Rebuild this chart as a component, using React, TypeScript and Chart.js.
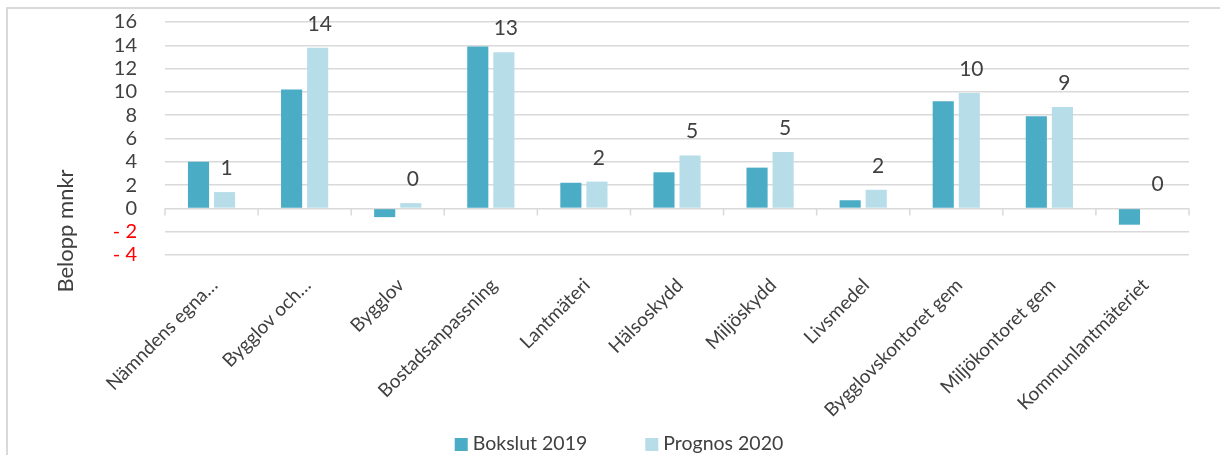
import { useEffect, useRef } from "react";
import { Chart, registerables } from "chart.js";

Chart.register(...registerables);

// ---- Data ----
const categories = [
  "Nämndens egna…",
  "Bygglov och…",
  "Bygglov",
  "Bostadsanpassning",
  "Lantmäteri",
  "Hälsoskydd",
  "Miljöskydd",
  "Livsmedel",
  "Bygglovskontoret gem",
  "Miljökontoret gem",
  "Kommunlantmäteriet",
];
const bokslut2019 = [4.0, 10.2, -0.75, 13.9, 2.2, 3.1, 3.5, 0.7, 9.2, 7.9, -1.4];
const prognos2020 = [1.4, 13.8, 0.45, 13.4, 2.3, 4.55, 4.85, 1.6, 9.9, 8.7, 0];
const seriesNames = ["Bokslut 2019", "Prognos 2020"];
const yMin = -4;
const yMax = 16;
const yStep = 2;
const yTitle = "Belopp mnkr";

// ---- Styles ----
const TEXT = "#404040";
const GRID = "#d9d9d9";
const COLORS = ["#4bacc6", "#b7dde8"];
const FONT = "Lato";

const zeroTicksPlugin = {
  id: "zeroTicks",
  beforeDatasetsDraw(chart: any) {
    const { ctx } = chart;
    const xs = chart.scales.x;
    const ys = chart.scales.y;
    const y0 = ys.getPixelForValue(0);
    const n = chart.data.labels.length;
    const step = xs.getPixelForValue(1) - xs.getPixelForValue(0);
    ctx.save();
    ctx.strokeStyle = GRID;
    ctx.lineWidth = 1.5;
    ctx.beginPath();
    for (let i = 0; i <= n; i++) {
      const x = xs.getPixelForValue(0) - step / 2 + i * step;
      ctx.moveTo(x, y0);
      ctx.lineTo(x, y0 + 7);
    }
    ctx.stroke();
    ctx.restore();
  },
};

const dataLabelPlugin = {
  id: "dataLabels",
  afterDatasetsDraw(chart: any) {
    const { ctx } = chart;
    const ys = chart.scales.y;
    const y0 = ys.getPixelForValue(0);
    const meta = chart.getDatasetMeta(1);
    const values = chart.data.datasets[1].data;
    ctx.save();
    ctx.font = `21px ${FONT}`;
    ctx.fillStyle = TEXT;
    ctx.textAlign = "center";
    ctx.textBaseline = "alphabetic";
    meta.data.forEach((bar: any, i: number) => {
      const top = Math.min(bar.y, y0);
      ctx.fillText(String(Math.round(values[i])), bar.x + 2, top - 17);
    });
    ctx.restore();
  },
};

const yTitlePlugin = {
  id: "yTitle",
  afterDraw(chart: any) {
    const { ctx } = chart;
    ctx.save();
    ctx.font = `22px ${FONT}`;
    ctx.fillStyle = TEXT;
    ctx.textAlign = "center";
    ctx.textBaseline = "middle";
    ctx.translate(66, 231);
    ctx.rotate(-Math.PI / 2);
    ctx.fillText(yTitle, 0, 0);
    ctx.restore();
  },
};

const legendPlugin = {
  id: "customLegend",
  afterDraw(chart: any) {
    const { ctx } = chart;
    const box = 13;
    const gapText = 5;
    const gapItem = 58;
    ctx.save();
    ctx.font = `19.5px ${FONT}`;
    const items = chart.data.datasets.map((ds: any) => ({
      text: ds.label,
      color: ds.backgroundColor,
      w: ctx.measureText(ds.label).width,
    }));
    const total =
      items.reduce((s: number, it: any) => s + box + gapText + it.w, 0) +
      gapItem * (items.length - 1);
    let x = 619 - total / 2;
    const baseY = 450;
    ctx.textBaseline = "alphabetic";
    ctx.textAlign = "left";
    items.forEach((it: any) => {
      ctx.fillStyle = it.color;
      ctx.fillRect(x, baseY - 12, box, box);
      x += box + gapText;
      ctx.fillStyle = TEXT;
      ctx.fillText(it.text, x, baseY);
      x += it.w + gapItem;
    });
    ctx.restore();
  },
};

export default function App() {
  const canvasRef = useRef<HTMLCanvasElement | null>(null);

  useEffect(() => {
    if (!canvasRef.current) return;
    Chart.defaults.font.family = FONT;
    const chart = new Chart(canvasRef.current, {
      type: "bar",
      data: {
        labels: categories,
        datasets: [
          {
            label: seriesNames[0],
            data: bokslut2019,
            backgroundColor: COLORS[0],
            categoryPercentage: 0.56,
            barPercentage: 0.81,
          },
          {
            label: seriesNames[1],
            data: prognos2020,
            backgroundColor: COLORS[1],
            categoryPercentage: 0.56,
            barPercentage: 0.81,
          },
        ],
      },
      options: {
        animation: false,
        responsive: false,
        devicePixelRatio: 1,
        layout: { padding: { left: 0, right: 31, top: 22, bottom: 0 } },
        plugins: {
          legend: { display: false },
          tooltip: { enabled: false },
        },
        scales: {
          x: {
            grid: { display: false },
            border: { display: false },
            ticks: {
              color: TEXT,
              font: { size: 19, family: FONT },
              minRotation: 45,
              maxRotation: 45,
              autoSkip: false,
              padding: 11,
              labelOffset: 3,
            },
            afterFit(scale: any) {
              scale.height = 200;
            },
          },
          y: {
            min: yMin,
            max: yMax,
            border: { display: false },
            grid: { color: GRID, lineWidth: 1.5, drawTicks: false },
            ticks: {
              stepSize: yStep,
              autoSkip: false,
              padding: 28,
              font: { size: 20, family: FONT },
              color: (c: any) => (c.tick && c.tick.value < 0 ? "#ff0000" : TEXT),
              callback: (v: any) => (v < 0 ? `- ${Math.abs(v)}` : String(v)),
            },
            title: { display: false },
            afterFit(scale: any) {
              scale.width = 165;
              scale.paddingTop = 0;
              scale.paddingBottom = 0;
            },
          },
        },
      },
      plugins: [zeroTicksPlugin, dataLabelPlugin, yTitlePlugin, legendPlugin],
    });
    return () => chart.destroy();
  }, []);

  return (
    <div
      style={{
        position: "fixed",
        left: 0,
        top: 0,
        width: 1220,
        height: 455,
        background: "#ffffff",
        overflow: "hidden",
      }}
    >
      <div
        style={{
          position: "absolute",
          left: 6,
          top: 7,
          right: 0,
          bottom: 0,
          borderLeft: `2px solid ${GRID}`,
          borderTop: `2px solid ${GRID}`,
        }}
      />
      <canvas
        ref={canvasRef}
        width={1220}
        height={455}
        style={{ position: "absolute", left: 0, top: 0, width: 1220, height: 455 }}
      />
    </div>
  );
}
